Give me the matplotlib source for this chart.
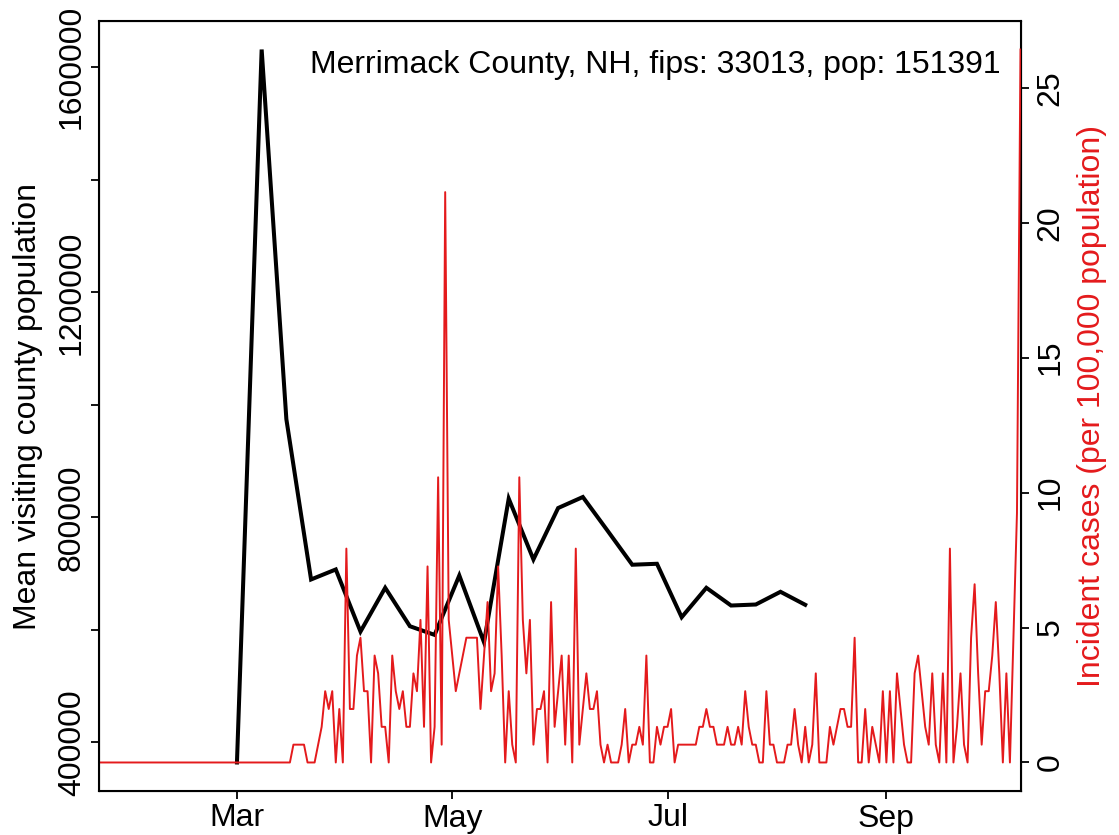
import numpy as np
import pandas as pd
import matplotlib
matplotlib.use("Agg")
import matplotlib.pyplot as plt

plt.rcParams['font.family'] = ['Liberation Sans', 'DejaVu Sans']

county_label = "Merrimack County, NH, fips: 33013, pop: 151391"
county_pop = 151391

# weekly mean visiting county population (Sundays from 2020-03-01)
visit_start = "2020-03-01"
mean_visiting = [364400, 1631700, 974600, 689700, 707500, 597100, 674900, 606600,
                 591200, 696800, 578000, 833400, 725300, 816700, 836300, 776400,
                 715900, 717600, 622600, 674900, 643400, 645200, 667800, 644700]

# daily new cases (counts) from 2020-01-22
cases_start = "2020-01-22"
daily_cases = [
    0, 0, 0, 0, 0, 0, 0, 0, 0, 0, 0, 0, 0, 0, 0, 0, 0, 0, 0, 0,
    0, 0, 0, 0, 0, 0, 0, 0, 0, 0, 0, 0, 0, 0, 0, 0, 0, 0, 0, 0,
    0, 0, 0, 0, 0, 0, 0, 0, 0, 0, 0, 0, 0, 0, 0,
    1, 1, 1, 1, 0, 0, 0, 1, 2, 4, 3, 4, 0, 3, 0, 12, 3, 3, 6, 7,
    4, 4, 0, 6, 5, 2, 2, 0, 6, 4, 3, 4, 2, 2, 5, 4, 8, 2, 11, 0,
    2, 16, 1, 32, 8, 6, 4, 5, 6, 7, 7, 7, 7, 3, 6, 9, 4, 5, 11, 6,
    0, 4, 1, 0, 16, 8, 5, 8, 1, 3, 3, 4, 0, 9, 2, 4, 6, 1, 6, 0,
    12, 1, 3, 5, 3, 3, 4, 1, 0, 1, 0, 0, 0, 1, 3, 0, 1, 1, 2, 1,
    6, 0, 0, 2, 1, 2, 2, 3, 0, 1, 1, 1, 1, 1, 1, 2, 2, 3, 2, 2,
    1, 1, 1, 2, 1, 1, 2, 1, 4, 2, 1, 1, 0, 0, 4, 1, 1, 0, 0, 0,
    1, 1, 3, 1, 0, 2, 0, 1, 5, 0, 0, 0, 2, 1, 2, 3, 3, 2, 2, 7,
    0, 0, 3, 0, 2, 1, 0, 4, 0, 4, 0, 5, 3, 1, 0, 0, 5, 6, 4, 2,
    1, 5, 1, 0, 5, 0, 12, 0, 2, 5, 1, 0, 7, 10, 5, 1, 4, 4, 6, 9,
    5, 0, 5, 0, 7, 14, 40,
]

visit_dates = pd.date_range(visit_start, periods=len(mean_visiting), freq="7D")
case_dates = pd.date_range(cases_start, periods=len(daily_cases), freq="D")
incidence = np.array(daily_cases) / county_pop * 1e5

red = "#e41a1c"
fs = 23
W, H = 1119, 835
fig = plt.figure(figsize=(W / 100, H / 100), dpi=100)
ax = fig.add_axes([99.3 / W, 44 / H, 921.2 / W, 770 / H])

ax.plot(visit_dates, mean_visiting, color="black", lw=2.9, solid_joinstyle="miter")
lo, hi = min(mean_visiting), max(mean_visiting)
pad = 0.04 * (hi - lo)
ax.set_ylim(lo - pad, hi + pad)
ax.set_xlim(case_dates[0], case_dates[-1])

yt = [400000, 600000, 800000, 1000000, 1200000, 1400000, 1600000]
ax.set_yticks(yt)
ax.set_yticklabels([str(v) if v % 400000 == 0 else "" for v in yt],
                   rotation=90, va="center", fontsize=fs)
ax.set_ylabel("Mean visiting county population", fontsize=fs, labelpad=10)

xt = pd.to_datetime(["2020-03-01", "2020-05-01", "2020-07-01", "2020-09-01"])
ax.set_xticks(xt)
ax.set_xticklabels(["Mar", "May", "Jul", "Sep"], fontsize=fs)
ax.tick_params(length=6, width=1.3, direction="out", pad=3)
for s in ax.spines.values():
    s.set_linewidth(1.5)

ax.text(0.978, 0.962, county_label, transform=ax.transAxes, ha="right", va="top",
        fontsize=fs)

ax2 = ax.twinx()
ax2.plot(case_dates, incidence, color=red, lw=1.4)
rlo, rhi = incidence.min(), incidence.max()
rpad = 0.04 * (rhi - rlo)
ax2.set_ylim(rlo - rpad, rhi + rpad)
ax2.set_yticks([0, 5, 10, 15, 20, 25])
ax2.set_yticklabels(["0", "5", "10", "15", "20", "25"], rotation=90, va="center",
                    fontsize=fs)
ax2.tick_params(length=6, width=1.3, direction="out", pad=5)
ax2.set_ylabel("Incident cases (per 100,000 population)", color=red, fontsize=fs,
               labelpad=8)
ax2.set_xlim(case_dates[0], case_dates[-1])

fig.savefig("out.png", dpi=100)
